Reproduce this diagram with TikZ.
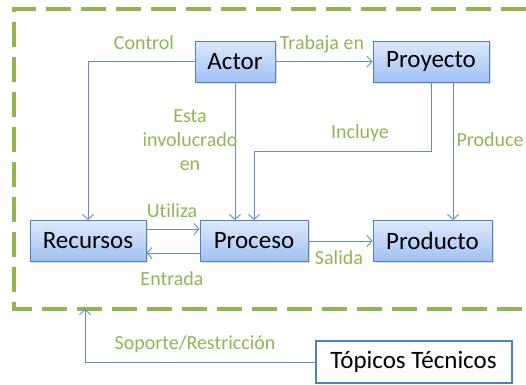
\documentclass[tikz,border=0pt]{standalone}
\usepackage{fontspec}
\setmainfont{Carlito}[Ligatures=NoCommon]
\usepackage{xcolor}
\definecolor{boxtop}{RGB}{222,233,252}
\definecolor{boxbot}{RGB}{160,192,244}
\definecolor{boxline}{RGB}{79,129,189}
\definecolor{linkblue}{RGB}{98,140,200}
\definecolor{lgreen}{RGB}{148,180,82}
\usetikzlibrary{arrows.meta,shadows}
\tikzset{
  entity/.style={draw=boxline, line width=0.9pt, top color=boxtop, bottom color=boxbot,
    minimum height=41pt, inner sep=0pt, font=\fontsize{25}{30}\selectfont,
    drop shadow={opacity=0.25, shadow xshift=1.5pt, shadow yshift=-1.5pt}},
  link/.style={draw=linkblue, line width=0.9pt, -{Straight Barb[length=5pt,width=11pt]}},
  rel/.style={text=lgreen, inner sep=0pt, font=\fontsize{20}{24}\selectfont, align=center},
}

\begin{document}
\begin{tikzpicture}[x=1pt,y=-1pt]
\useasboundingbox (0,0) rectangle (526,384);
% frame
\draw[lgreen, line width=3.5pt, dash pattern=on 25pt off 10pt] (526,9) -- (14,9) -- (14,309) -- (526,309);
\coordinate (framein) at (85,309);
% boxes
\node[entity, minimum width=80pt] (actor) at (235,61.5) {Actor};
\node[entity, minimum width=116pt] (proyecto) at (431,61.5) {Proyecto};
\node[entity, minimum width=116pt] (recursos) at (88,241) {Recursos};
\node[entity, minimum width=108pt] (proceso) at (254,241) {Proceso};
\node[entity, minimum width=119pt] (producto) at (432.5,241) {Producto};
\node[draw=boxline, line width=2pt, fill=white, minimum width=196pt, minimum height=42pt,
  font=\fontsize{25}{30}\selectfont] (topicos) at (413.5,362) {Tópicos Técnicos};
% links
\draw[link] (actor.west) -| (recursos.north);
\draw[link] (actor.south) -- (actor.south |- proceso.north);
\draw[link] (actor.east) -- (proyecto.west);
\draw[link] (proyecto.south) -- ++(0,69) -| (proceso.north);
\draw[link] ([xshift=22pt]proyecto.south) -- ([xshift=22pt]proyecto.south |- producto.north);
\draw[link] ([yshift=12pt]recursos.east) -- ([yshift=12pt]proceso.west);
\draw[link] ([yshift=-12pt]proceso.west) -- ([yshift=-12pt]recursos.east);
\draw[link] (proceso.east) -- (producto.west);
\draw[link] (topicos.west) -| (framein);
% labels
\node[rel] (lcontrol) at (144,43) {Control};
\node[rel] (linvol) at (190,140) {Esta\\involucrado\\en};
\node[rel] (ltrabaja) at (322,44) {Trabaja en};
\node[rel] (lincluye) at (360,133) {Incluye};
\node[rel] (lproduce) at (490,140) {Produce};
\node[rel] (lutiliza) at (172,211) {Utiliza};
\node[rel] (lentrada) at (172,279) {Entrada};
\node[rel] (lsalida) at (339,258) {Salida};
\node[rel] (lsoporte) at (195,344) {Soporte/Restricción};
\end{tikzpicture}
\end{document}
